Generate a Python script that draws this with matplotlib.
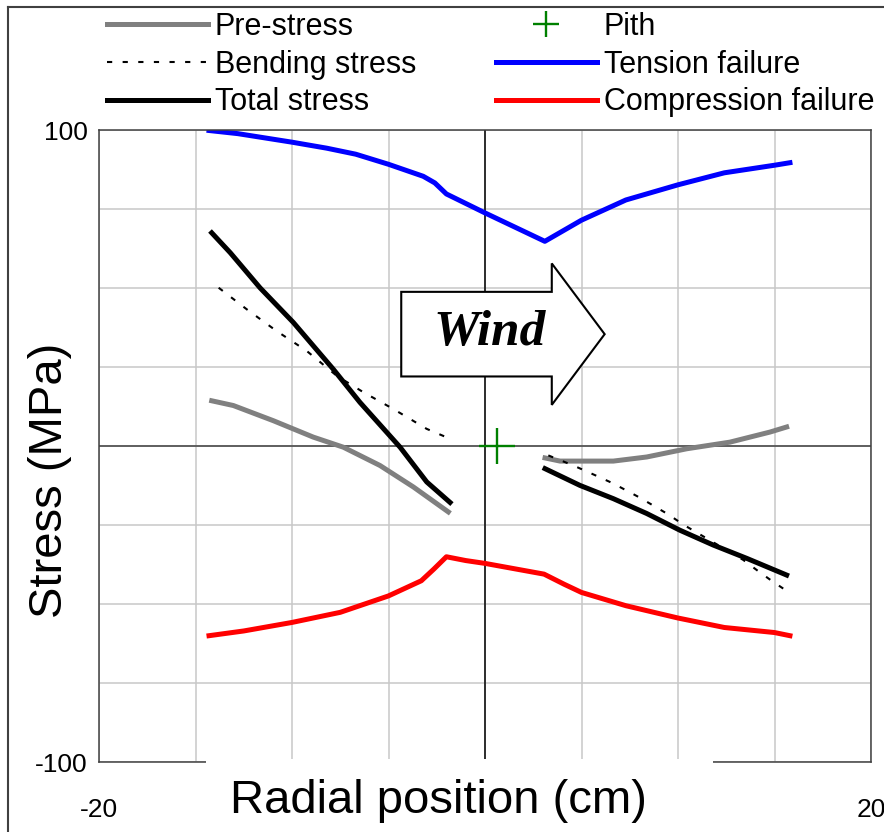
import numpy as np
import matplotlib.pyplot as plt
from matplotlib.patches import FancyArrow, Rectangle
from matplotlib.lines import Line2D

plt.rcParams['font.family'] = ['Liberation Sans', 'DejaVu Sans']

# values: radial position (cm), stress (MPa)
tension_x = [-14.3, -12.8, -10.0, -8.2, -6.7, -5.0, -3.2, -2.6, -2.0, -1.0, 0.0, 3.1, 5.0, 7.3, 10.0, 12.4, 15.0, 15.8]
tension_y = [100.0, 99.0, 96.3, 94.4, 92.5, 89.3, 85.5, 83.4, 79.9, 76.9, 73.9, 64.9, 71.6, 78.0, 82.8, 86.6, 89.0, 89.8]

compression_x = [-14.3, -12.5, -10.0, -7.5, -5.0, -3.3, -2.65, -2.0, -1.0, 0.0, 3.06, 4.1, 5.0, 7.3, 10.0, 12.4, 15.0, 15.8]
compression_y = [-60.0, -58.5, -55.8, -52.6, -47.4, -42.6, -38.9, -35.0, -36.2, -37.1, -40.5, -43.7, -46.3, -50.5, -54.4, -57.4, -59.0, -60.0]

pre_left_x = [-14.16, -13.04, -10.97, -8.9, -7.34, -5.44, -3.71, -1.9]
pre_left_y = [14.4, 12.9, 8.1, 2.9, -0.3, -6.1, -12.9, -20.8]
pre_right_x = [3.11, 3.89, 6.65, 8.38, 10.45, 12.69, 14.77, 15.63]
pre_right_y = [-3.7, -4.7, -4.7, -3.4, -0.8, 1.3, 4.5, 6.1]

bend_left_x = [-13.8, -12.35, -10.8, -9.24, -7.68, -6.3, -4.75, -3.02, -1.9]
bend_left_y = [50.2, 43.4, 36.5, 30.2, 22.3, 17.1, 11.8, 5.5, 2.6]
bend_right_x = [3.28, 4.58, 5.79, 6.65, 8.03, 9.5, 10.27, 13.38, 14.08, 14.85, 15.63]
bend_right_y = [-2.9, -6.1, -9.4, -11.8, -16.3, -21.6, -24.8, -36.0, -39.2, -42.6, -45.8]

total_left_x = [-14.16, -13.2, -11.66, -9.93, -7.86, -6.48, -4.4, -3.02, -1.81]
total_left_y = [67.6, 61.3, 50.2, 39.2, 24.4, 13.9, -0.3, -11.3, -17.8]
total_right_x = [3.11, 4.92, 6.65, 8.38, 10.1, 11.83, 13.56, 15.63]
total_right_y = [-7.1, -12.4, -16.6, -21.3, -26.6, -31.3, -35.5, -40.8]

pith_x = [0.6]
pith_y = [0.0]

W, H = 884, 832
fig = plt.figure(figsize=(W / 100, H / 100), dpi=100)
ax = fig.add_axes([99 / W, 1 - 762 / H, (871 - 99) / W, (762 - 130.5) / H])

ax.set_xlim(-20, 20)
ax.set_ylim(-100, 100)
ax.set_xticks(np.arange(-20, 21, 5))
ax.set_xticklabels(['-20'] + [''] * 7 + ['20'])
ax.set_yticks(np.arange(-100, 101, 25))
ax.set_yticklabels(['-100'] + [''] * 7 + ['100'])
ax.tick_params(axis='both', length=0, labelsize=19)
ax.tick_params(axis='x', pad=26)
ax.tick_params(axis='y', pad=8)
ax.grid(True, color='#c8c8c8', lw=1.1)
ax.set_axisbelow(True)
for s in ax.spines.values():
    s.set_color('#404040')
    s.set_linewidth(1.1)
ax.axhline(0, color='#404040', lw=1.1, zorder=1.5)
ax.axvline(0, color='black', lw=1.1, zorder=1.5)

lw = 3.6
dots = (0, (2.5, 5))
h_pre, = ax.plot(pre_left_x, pre_left_y, color='#808080', lw=lw, label='Pre-stress')
ax.plot(pre_right_x, pre_right_y, color='#808080', lw=lw)
h_bend, = ax.plot(bend_left_x, bend_left_y, color='black', lw=1.5, ls=dots, label='Bending stress')
ax.plot(bend_right_x, bend_right_y, color='black', lw=1.5, ls=dots)
h_tot, = ax.plot(total_left_x, total_left_y, color='black', lw=lw, label='Total stress')
ax.plot(total_right_x, total_right_y, color='black', lw=lw)
h_pith, = ax.plot(pith_x, pith_y, '+', color='#008000', ms=26, mew=1.7, ls='none', label='Pith')
h_ten, = ax.plot(tension_x, tension_y, color='#0000ff', lw=lw, label='Tension failure')
h_com, = ax.plot(compression_x, compression_y, color='#ff0000', lw=lw, label='Compression failure')

# wind arrow
arrow = FancyArrow(-4.34, 35.5, 10.54, 0, width=26.8, head_width=44.8, head_length=2.74,
                   length_includes_head=True, fc='white', ec='black', lw=1.5, zorder=5)
ax.add_patch(arrow)
ax.text(0.26, 36, 'Wind', family='Liberation Serif', weight='bold', style='italic',
        size=37, ha='center', va='center', zorder=6)

handles = [h_pre, h_bend, h_tot, h_pith, h_ten, h_com]
fig.legend(handles, [h.get_label() for h in handles], ncol=2, loc='upper left',
           bbox_to_anchor=(107 / W, 1 - 12 / H), frameon=False, fontsize=22,
           handlelength=3.3, handletextpad=0.23, columnspacing=2.6, labelspacing=0.25,
           borderpad=0, borderaxespad=0, markerscale=0.7)

# white box behind the x label, hides part of the bottom axis line
fig.add_artist(Rectangle((206 / W, 0), (713 - 206) / W, 1 - 759 / H,
                         transform=fig.transFigure, fc='white', ec='none', zorder=3))
fig.text(438 / W, 1 - 801 / H, 'Radial position (cm)', size=34, ha='center', va='center', zorder=4)
fig.text(50 / W, 1 - 480 / H, 'Stress (MPa)', size=34, rotation=90, ha='center', va='center')

# chart frame
fig.add_artist(Line2D([8 / W, 8 / W], [0, 1 - 7 / H], transform=fig.transFigure, color='#404040', lw=1.5))
fig.add_artist(Line2D([8 / W, 1], [1 - 7 / H, 1 - 7 / H], transform=fig.transFigure, color='#404040', lw=1.5))

fig.savefig('out.png', dpi=100)
